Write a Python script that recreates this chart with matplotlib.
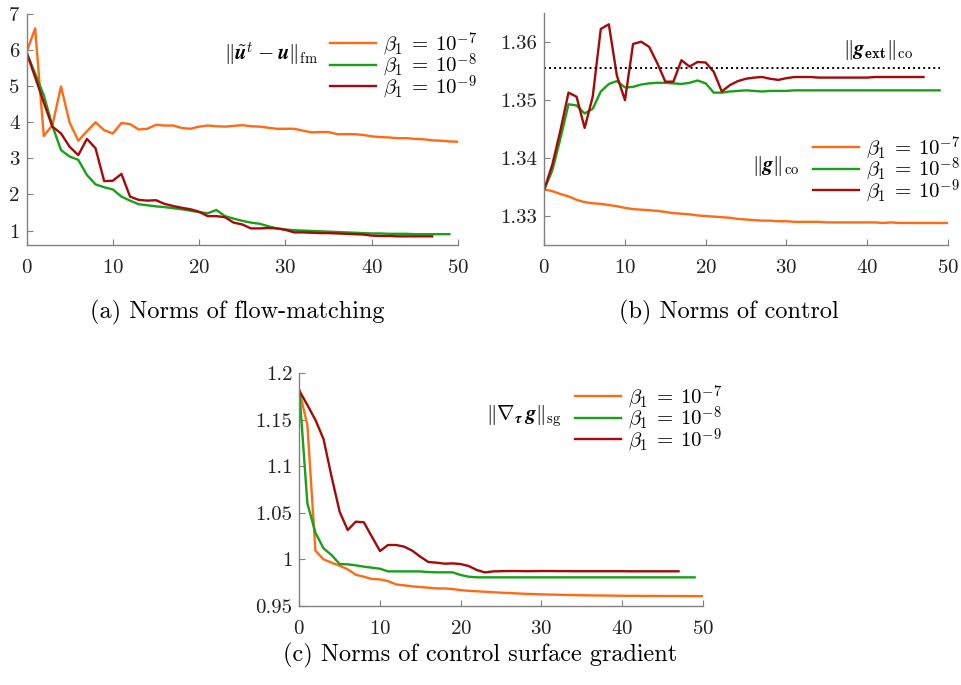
import matplotlib
matplotlib.use('Agg')
import matplotlib.pyplot as plt
from matplotlib.ticker import FuncFormatter
import numpy as np

plt.rcParams['font.family'] = 'serif'
plt.rcParams['font.serif'] = ['cmr10']
plt.rcParams['mathtext.fontset'] = 'cm'
plt.rcParams['axes.formatter.use_mathtext'] = True
plt.rcParams['font.size'] = 15

ORANGE = '#ff6a13'
GREEN = '#18a018'
DARKRED = '#a30a0a'

betas = [r'$\beta_1 \:=\: 10^{-7}$', r'$\beta_1 \:=\: 10^{-8}$', r'$\beta_1 \:=\: 10^{-9}$']

# (a) flow-matching norms
fm_b7 = [5.94, 6.6, 3.62, 3.92, 4.99, 3.99, 3.49, 3.75, 4.0, 3.78, 3.69, 3.98, 3.95, 3.80,
         3.82, 3.93, 3.91, 3.91, 3.84, 3.82, 3.88, 3.91, 3.89, 3.88, 3.90, 3.92, 3.89, 3.88,
         3.85, 3.82, 3.82, 3.82, 3.77, 3.72, 3.73, 3.73, 3.67, 3.67, 3.67, 3.65, 3.61, 3.59,
         3.58, 3.56, 3.56, 3.54, 3.53, 3.50, 3.49, 3.47, 3.46]
fm_b8 = [5.94, 5.35, 4.75, 3.9, 3.23, 3.05, 2.96, 2.54, 2.28, 2.20, 2.14, 1.94, 1.83, 1.73,
         1.70, 1.67, 1.65, 1.62, 1.59, 1.55, 1.51, 1.48, 1.57, 1.40, 1.33, 1.27, 1.22, 1.19,
         1.12, 1.06, 1.03, 1.01, 1.0, 0.99, 0.98, 0.97, 0.96, 0.95, 0.94, 0.93, 0.92, 0.92,
         0.91, 0.91, 0.91, 0.90, 0.90, 0.90, 0.90, 0.90]
fm_b9 = [5.94, 5.25, 4.55, 3.88, 3.69, 3.32, 3.09, 3.54, 3.28, 2.37, 2.38, 2.57, 1.94, 1.85,
         1.83, 1.84, 1.74, 1.68, 1.63, 1.59, 1.52, 1.40, 1.40, 1.37, 1.22, 1.17, 1.06, 1.06,
         1.07, 1.06, 1.02, 0.95, 0.95, 0.94, 0.93, 0.93, 0.92, 0.91, 0.90, 0.89, 0.86, 0.85,
         0.85, 0.84, 0.84, 0.84, 0.84, 0.84]

# (b) control norms
co_b7 = [1.3346, 1.3343, 1.3338, 1.3334, 1.3328, 1.3324, 1.3322, 1.3321, 1.3319, 1.3317,
         1.3314, 1.3312, 1.3311, 1.3310, 1.3309, 1.3307, 1.3305, 1.3304, 1.3303, 1.3301,
         1.3300, 1.3299, 1.3298, 1.3297, 1.3295, 1.3294, 1.3293, 1.3292, 1.3292, 1.3291,
         1.3291, 1.3290, 1.3290, 1.3290, 1.3290, 1.3289, 1.3289, 1.3289, 1.3289, 1.3289,
         1.3289, 1.3289, 1.3288, 1.3289, 1.3288, 1.3288, 1.3288, 1.3288, 1.3288, 1.3288, 1.3288]
co_b8 = [1.3346, 1.3379, 1.3434, 1.3493, 1.3491, 1.3477, 1.3485, 1.3515, 1.3528, 1.3533,
         1.3522, 1.3523, 1.3527, 1.3529, 1.3530, 1.3530, 1.3529, 1.3528, 1.3530, 1.3534,
         1.3529, 1.3513, 1.3513, 1.3515, 1.3516, 1.3517, 1.3516, 1.3515, 1.3516, 1.3516,
         1.3516, 1.3517, 1.3517, 1.3517, 1.3517, 1.3517, 1.3517, 1.3517, 1.3517, 1.3517,
         1.3517, 1.3517, 1.3517, 1.3517, 1.3517, 1.3517, 1.3517, 1.3517, 1.3517, 1.3517]
co_b9 = [1.3346, 1.3389, 1.3448, 1.3513, 1.3506, 1.3452, 1.3506, 1.3623, 1.3631, 1.3542,
         1.3500, 1.3597, 1.3601, 1.3592, 1.3564, 1.3532, 1.3532, 1.3569, 1.3558, 1.3566,
         1.3565, 1.3549, 1.3515, 1.3526, 1.3533, 1.3537, 1.3539, 1.3540, 1.3537, 1.3535,
         1.3538, 1.3540, 1.3540, 1.3540, 1.3539, 1.3539, 1.3539, 1.3539, 1.3539, 1.3539,
         1.3539, 1.3540, 1.3540, 1.3540, 1.3540, 1.3540, 1.3540, 1.3540]
g_ext = 1.3556

# (c) surface gradient norms
sg_b7 = [1.1813, 1.1444, 1.0092, 0.9999, 0.9963, 0.9930, 0.9891, 0.9833, 0.9812, 0.9787,
         0.9783, 0.9765, 0.9729, 0.9719, 0.9708, 0.9701, 0.9694, 0.9686, 0.9686, 0.9679,
         0.9668, 0.9660, 0.9655, 0.9650, 0.9645, 0.9640, 0.9636, 0.9632, 0.9628, 0.9625,
         0.9622, 0.9620, 0.9618, 0.9616, 0.9614, 0.9612, 0.9611, 0.9610, 0.9609, 0.9608,
         0.9607, 0.9606, 0.9606, 0.9605, 0.9605, 0.9604, 0.9604, 0.9604, 0.9603, 0.9603, 0.9603]
sg_b8 = [1.1813, 1.0601, 1.0285, 1.0117, 1.0045, 0.9948, 0.9945, 0.9934, 0.9920, 0.9909,
         0.9898, 0.9869, 0.9869, 0.9869, 0.9869, 0.9869, 0.9862, 0.9859, 0.9859, 0.9859,
         0.9830, 0.9812, 0.9805, 0.9805, 0.9805, 0.9805, 0.9805, 0.9805, 0.9805, 0.9805,
         0.9805, 0.9805, 0.9805, 0.9805, 0.9805, 0.9805, 0.9805, 0.9805, 0.9805, 0.9805,
         0.9805, 0.9805, 0.9805, 0.9805, 0.9805, 0.9805, 0.9805, 0.9805, 0.9805, 0.9805]
sg_b9 = [1.1813, 1.1659, 1.1498, 1.1293, 1.0888, 1.0511, 1.0314, 1.0404, 1.0397, 1.0242,
         1.0088, 1.0153, 1.0153, 1.0135, 1.0092, 1.0027, 0.9970, 0.9963, 0.9952, 0.9955,
         0.9948, 0.9927, 0.9884, 0.9858, 0.9869, 0.9871, 0.9873, 0.9873, 0.9871, 0.9872,
         0.9873, 0.9873, 0.9872, 0.9872, 0.9871, 0.9871, 0.9871, 0.9871, 0.9871, 0.9871,
         0.9871, 0.9870, 0.9870, 0.9870, 0.9870, 0.9870, 0.9870, 0.9870]


def style_axes(ax, ylim, yticks):
    ax.set_xlim(0, 50)
    ax.set_ylim(*ylim)
    ax.set_xticks([0, 10, 20, 30, 40, 50])
    ax.set_yticks(yticks)
    ax.yaxis.set_major_formatter(FuncFormatter(lambda v, p: '%g' % round(v, 4)))
    for s in ['top', 'right']:
        ax.spines[s].set_visible(False)
    for s in ['left', 'bottom']:
        ax.spines[s].set_color('#808080')
        ax.spines[s].set_linewidth(1.0)
    ax.tick_params(direction='in', length=4, width=0.8, color='#808080',
                   labelsize=15, labelcolor='#222222')
    ax.tick_params(axis='x', pad=10)
    ax.tick_params(axis='y', pad=5)


def plot_series(ax, series):
    lines = []
    for vals, col in zip(series, [ORANGE, GREEN, DARKRED]):
        l, = ax.plot(np.arange(len(vals)), vals, color=col, lw=1.7)
        lines.append(l)
    return lines


def add_legend(fig, lines, x, y):
    fig.legend(lines, betas, loc='upper left', bbox_to_anchor=(x, y),
               frameon=False, fontsize=15, handlelength=2.2, handletextpad=0.35,
               labelspacing=-0.29, borderpad=0, borderaxespad=0)


fig = plt.figure(figsize=(9.62, 6.85), dpi=100)
W, H = 962.0, 685.0

# panel (a)
ax_a = fig.add_axes([26.5 / W, 1 - 245 / H, 431.5 / W, 231 / H])
lines = plot_series(ax_a, [fm_b7, fm_b8, fm_b9])
style_axes(ax_a, (0.6, 7), [1, 2, 3, 4, 5, 6, 7])
add_legend(fig, lines, 330 / W, 1 - 30 / H)
fig.text(318 / W, 1 - 54 / H, r'$\|\tilde{\boldsymbol{u}}^t - \boldsymbol{u}\|_{\mathrm{fm}}$',
         ha='right', va='center', fontsize=15)
fig.text(237.5 / W, 1 - 318 / H, '(a) Norms of flow-matching', ha='center', va='baseline',
         fontsize=17.5)

# panel (b)
ax_b = fig.add_axes([544.3 / W, 1 - 245 / H, 403.4 / W, 231.7 / H])
lines = plot_series(ax_b, [co_b7, co_b8, co_b9])
ax_b.hlines(g_ext, 0, 49, colors='black', linestyles=(0, (1, 1.6)), lw=1.4)
style_axes(ax_b, (1.325, 1.365), [1.33, 1.34, 1.35, 1.36])
ax_b.yaxis.set_major_formatter(FuncFormatter(lambda v, p: '%.2f' % v))
add_legend(fig, lines, 812.7 / W, 1 - 134 / H)
fig.text(800 / W, 1 - 166 / H, r'$\|\boldsymbol{g}\|_{\mathrm{co}}$',
         ha='right', va='center', fontsize=15)
fig.text(878 / W, 1 - 50 / H, r'$\|\boldsymbol{g}_{\mathbf{ext}}\|_{\mathrm{co}}$',
         ha='center', va='center', fontsize=15)
fig.text(729 / W, 1 - 318 / H, '(b) Norms of control', ha='center', va='baseline',
         fontsize=17.5)

# panel (c)
ax_c = fig.add_axes([299.3 / W, 1 - 605.7 / H, 403.4 / W, 232.4 / H])
lines = plot_series(ax_c, [sg_b7, sg_b8, sg_b9])
style_axes(ax_c, (0.95, 1.2), [0.95, 1.0, 1.05, 1.1, 1.15, 1.2])
add_legend(fig, lines, 575 / W, 1 - 383 / H)
fig.text(561.7 / W, 1 - 416 / H, r'$\|\nabla_{\boldsymbol{\tau}}\, \boldsymbol{g}\|_{\mathrm{sg}}$',
         ha='right', va='center', fontsize=15)
fig.text(480 / W, 1 - 661 / H, '(c) Norms of control surface gradient',
         ha='center', va='baseline', fontsize=17.5)

fig.savefig('out.png', dpi=100, facecolor='white')
